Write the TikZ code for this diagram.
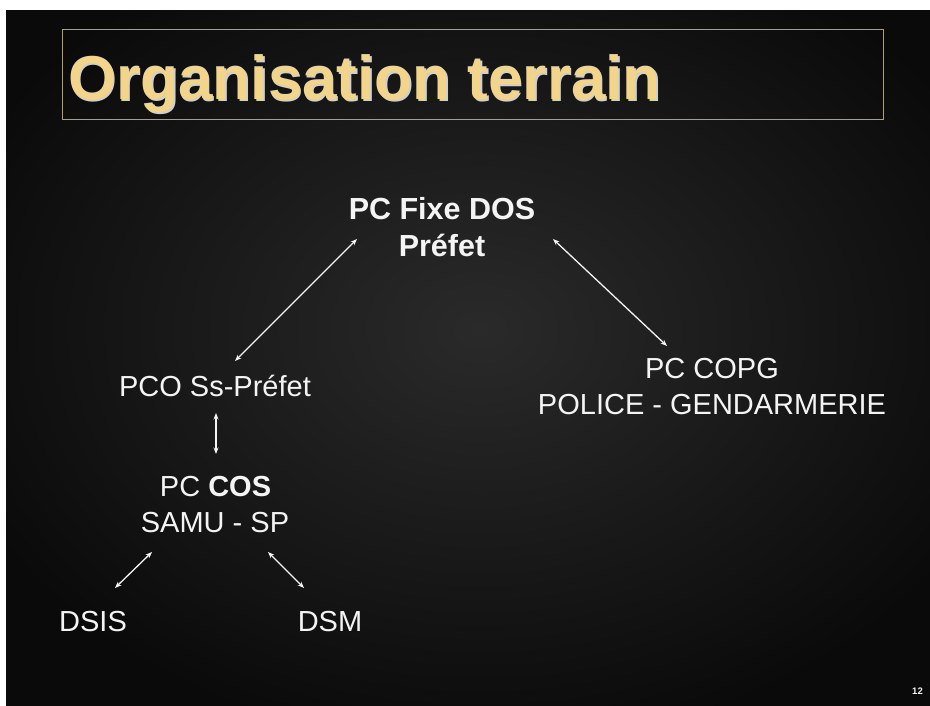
\documentclass[tikz,border=0pt]{standalone}
\usepackage{fontspec}
\setmainfont{Liberation Sans}
\usetikzlibrary{arrows.meta,calc}

\definecolor{slidebg}{HTML}{0A0A0B}
\definecolor{slideglow}{HTML}{2A2A2B}
\definecolor{titlegold}{HTML}{F2D48A}
\definecolor{framegold}{HTML}{B39E6E}
\definecolor{titleshade}{HTML}{D0D0D0}
\definecolor{inktext}{HTML}{F4F4F4}

\tikzset{
  lbl/.style={inner sep=0pt, anchor=base, text=inktext,
              font=\fontsize{29}{29}\selectfont},
  lblbold/.style={lbl, font=\fontsize{30.5}{30.5}\selectfont\bfseries},
  link/.style={draw=inktext, line width=1.3pt,
               {Stealth[length=6.5pt,width=5pt]}-{Stealth[length=6.5pt,width=5pt]}},
  titlebox/.style={draw=framegold, line width=1.3pt, inner sep=0pt,
                   anchor=north west},
  titletext/.style={inner sep=0pt, anchor=base west,
                    font=\fontsize{62}{62}\selectfont\bfseries}
}

\begin{document}
\begin{tikzpicture}[x=1pt, y=-1pt]
  \useasboundingbox (0,0) rectangle (930,706);

  % dark slide background with a soft lighter centre
  \begin{scope}
    \clip (6,10) rectangle (930,706);
    \fill[slidebg] (6,10) rectangle (930,706);
    \shade[inner color=slideglow, outer color=slidebg]
      (480,330) ellipse [x radius=560, y radius=420];
  \end{scope}
  % white page edge above and left of the slide
  \fill[white] (0,0) rectangle (930,10);
  \fill[white] (0,0) rectangle (6,706);

  % title
  \node[titlebox, minimum width=821pt, minimum height=90pt] (frame) at (62,29) {};
  \node[titletext, text=titleshade] (titleshadow) at (69.5,102) {Organisation terrain};
  \node[titletext, text=titlegold] (title) at (68,100) {Organisation terrain};

  % hierarchy labels
  \node[lblbold] (fixe1) at (442,219) {PC Fixe DOS};
  \node[lblbold] (fixe2) at (442,257) {Préfet};

  \node[lbl] (pco) at (215,396) {PCO Ss-Préfet};

  \node[lbl] (copg1) at (712,378) {PC COPG};
  \node[lbl] (copg2) at (712,414) {POLICE - GENDARMERIE};

  \node[lbl] (cos1) at (215.5,496) {PC \textbf{COS}};
  \node[lbl] (cos2) at (215,532) {SAMU - SP};

  \node[lbl] (dsis) at (93,631) {DSIS};
  \node[lbl] (dsm) at (330,631) {DSM};

  % page number
  \node[inner sep=0pt, anchor=base, text=inktext,
        font=\fontsize{9.5}{9.5}\selectfont\bfseries] (pagenum) at (917.5,694) {12};

  % two-way links
  \draw[link] ($(fixe1.base)+(-85,20)$) -- ($(pco.base)+(20,-35)$);
  \draw[link] ($(fixe1.base)+(111,20)$) -- ($(copg1.base)+(-45,-32)$);
  \draw[link] ($(pco.base)+(1,17)$) -- ($(cos1.base)+(0.5,-42)$);
  \draw[link] ($(cos2.base)+(-63,20)$) -- ($(dsis.base)+(22,-43)$);
  \draw[link] ($(cos2.base)+(53,20)$) -- ($(dsm.base)+(-26,-43)$);
\end{tikzpicture}
\end{document}
